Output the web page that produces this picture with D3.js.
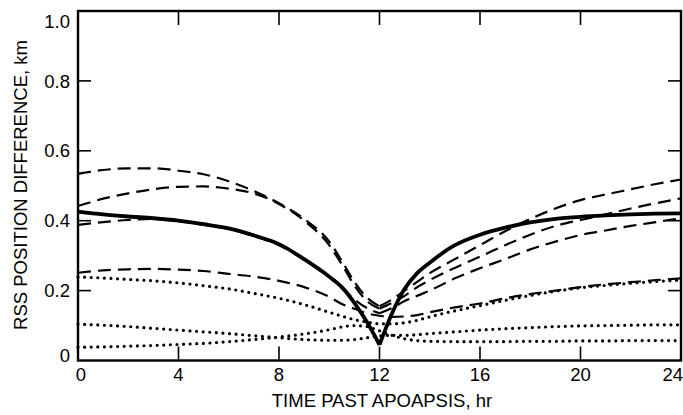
<!DOCTYPE html>
<html><head><meta charset="utf-8">
<script src="https://cdn.jsdelivr.net/npm/d3@7"></script>
<style>body{margin:0;background:#fff}svg{display:block}</style>
</head><body>
<svg id="c" width="683" height="415"></svg>
<script>
const hours = [0,1,2,3,4,5,6,7,8,9,10,10.5,11,11.5,12,12.5,13,13.5,14,15,16,17,18,19,20,21,22,23,24];
const solidV = [.426,.418,.412,.407,.400,.390,.378,.358,.333,.290,.240,.210,.165,.110,.045,.135,.205,.250,.280,.330,.360,.380,.395,.405,.411,.415,.418,.420,.421];
const dash1V = [.534,.545,.550,.550,.543,.533,.513,.485,.450,.405,.340,.285,.225,.180,.155,.175,.200,.225,.250,.290,.330,.370,.405,.435,.459,.475,.490,.505,.518];
const dash2V = [.442,.463,.478,.490,.497,.498,.492,.478,.448,.400,.330,.275,.215,.170,.148,.165,.185,.210,.230,.265,.297,.330,.360,.385,.402,.418,.435,.450,.464];
const dash3V = [.388,.396,.402,.405,.399,.388,.376,.356,.330,.288,.238,.208,.175,.150,.135,.150,.170,.185,.200,.235,.264,.290,.318,.340,.359,.372,.385,.396,.407];
const dash4V = [.251,.258,.261,.262,.260,.256,.248,.240,.228,.210,.182,.162,.148,.135,.128,.125,.126,.130,.138,.152,.163,.178,.190,.200,.210,.218,.224,.230,.235];
const dot1V = [.239,.236,.232,.228,.222,.214,.205,.192,.178,.160,.138,.127,.117,.110,.105,.105,.108,.115,.125,.142,.157,.172,.186,.198,.208,.215,.221,.226,.230];
const dot2V = [.104,.101,.097,.092,.087,.082,.077,.071,.065,.060,.058,.058,.060,.065,.070,.072,.072,.074,.077,.082,.087,.091,.094,.097,.099,.100,.101,.102,.102];
const dot3V = [.038,.039,.041,.043,.046,.049,.054,.060,.067,.076,.088,.096,.100,.097,.085,.072,.062,.057,.055,.054,.054,.054,.055,.055,.056,.056,.057,.057,.057];
const xTicks = [0,4,8,12,16,20,24];
const yTicks = [0,0.2,0.4,0.6,0.8,1.0];
const yTickLabels = ["0","0.2","0.4","0.6","0.8","1.0"];
const xTitle = "TIME PAST APOAPSIS, hr";
const yTitle = "RSS POSITION DIFFERENCE, km";

const svg = d3.select("#c");
const L=78,R=681,T=11,B=360.5;
const x = d3.scaleLinear().domain([0,24]).range([L,R]);
const y = d3.scaleLinear().domain([0,1]).range([B,T]);
const font = "'Liberation Sans', Arial, Helvetica, sans-serif";

const line = d3.line().x(d=>x(d[0])).y(d=>y(d[1])).curve(d3.curveMonotoneX);
function pts(v){return hours.map((h,i)=>[h,v[i]]);}
function drawSeries(v, style, split){
  const p = pts(v);
  const parts = split ? [p.filter(d=>d[0]<=12), p.filter(d=>d[0]>=12)] : [p];
  parts.forEach(part=>{
    const path = svg.append("path").attr("d", line(part)).attr("fill","none").attr("stroke","#000");
    Object.entries(style).forEach(([k,val])=>path.attr(k,val));
  });
}
const dashed = {"stroke-width":2.2,"stroke-dasharray":"13,7"};
const dotted = {"stroke-width":3.2,"stroke-dasharray":"0,6.6","stroke-linecap":"round"};
drawSeries(dot1V, dotted, false);
drawSeries(dot2V, dotted, false);
drawSeries(dot3V, dotted, false);
drawSeries(dash4V, dashed, false);
drawSeries(dash3V, dashed, true);
drawSeries(dash2V, dashed, true);
drawSeries(dash1V, dashed, true);
drawSeries(solidV, {"stroke-width":3.8,"stroke-linejoin":"miter"}, true);

// frame
svg.append("rect").attr("x",L).attr("y",T).attr("width",R-L).attr("height",B-T)
  .attr("fill","none").attr("stroke","#000").attr("stroke-width",2.4);

// ticks
const tk = svg.append("g").attr("stroke","#000").attr("stroke-width",1.6);
xTicks.filter(t=>t>0&&t<24).forEach(t=>{
  tk.append("line").attr("x1",x(t)).attr("x2",x(t)).attr("y1",B).attr("y2",B-14);
  tk.append("line").attr("x1",x(t)).attr("x2",x(t)).attr("y1",T).attr("y2",T+14);
});
yTicks.filter(t=>t>0&&t<1).forEach(t=>{
  tk.append("line").attr("x1",L).attr("x2",L+13).attr("y1",y(t)).attr("y2",y(t));
  tk.append("line").attr("x1",R).attr("x2",R-13).attr("y1",y(t)).attr("y2",y(t));
});

// tick labels
yTicks.forEach((t,i)=>{
  let yy = y(t);
  if(t===1) yy = 21; if(t===0) yy = 355;
  svg.append("text").attr("x",70).attr("y",yy).attr("dy","0.36em").attr("text-anchor","end")
    .attr("font-family",font).attr("font-size",18.5).text(yTickLabels[i]);
});
xTicks.forEach(t=>{
  let xx = x(t), anchor="middle";
  if(t===0) xx = x(0)+3;
  if(t===24){xx = 683; anchor="end";}
  svg.append("text").attr("x",xx).attr("y",381).attr("text-anchor",anchor)
    .attr("font-family",font).attr("font-size",18.5).text(String(t));
});

// titles
svg.append("text").attr("x",382).attr("y",407).attr("text-anchor","middle")
  .attr("font-family",font).attr("font-size",18.5).text(xTitle);
svg.append("text").attr("transform","translate(27,185) rotate(-90)").attr("text-anchor","middle")
  .attr("font-family",font).attr("font-size",18.5).text(yTitle);
</script>
</body></html>
